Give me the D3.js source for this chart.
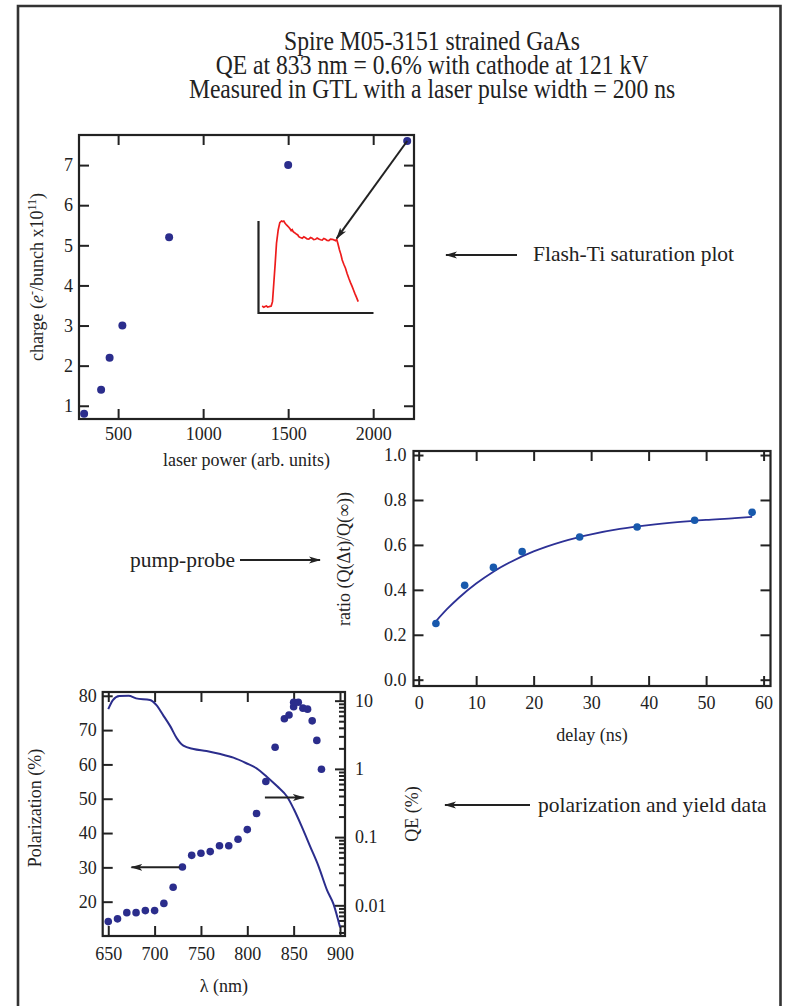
<!DOCTYPE html>
<html>
<head>
<meta charset="utf-8">
<script src="https://cdn.jsdelivr.net/npm/d3@7/dist/d3.min.js"></script>
<style>
  body { margin: 0; background: #fff; }
  svg { display: block; }
  text { font-family: "Liberation Serif", "Times New Roman", serif; fill: #222; }
</style>
</head>
<body>
<svg id="chart" width="785" height="1006"></svg>
<script>
// ---- data ----
var titleLines = [
  "Spire M05-3151 strained GaAs",
  "QE at 833 nm = 0.6% with cathode at 121 kV",
  "Measured in GTL with a laser pulse width = 200 ns"
];

// Flash-Ti saturation
var satPower = [300, 400, 450, 525, 800, 1500, 2200];
var satCharge = [0.8, 1.4, 2.2, 3.0, 5.2, 7.0, 7.6];
var satXTicks = [500, 1000, 1500, 2000];
var satYTicks = [1, 2, 3, 4, 5, 6, 7];

// inset: bunch shape (arb. time / arb. amplitude)
var pulseTime = [3.7, 5.3, 6.5, 8.0, 9.2, 10.3, 11.5, 12.7, 14.0, 15.3,
  16.7, 18.0, 19.7, 21.3, 23.0, 24.2, 25.3, 26.6, 28.0, 29.2,
  30.3, 31.5, 32.7, 33.7, 34.7, 35.8, 37.0, 38.2, 39.3, 40.3,
  41.3, 42.5, 43.7, 45.3, 47.0, 48.6, 50.3, 52.0, 53.7, 55.3,
  57.0, 58.6, 60.3, 62.0, 63.7, 65.3, 67.0, 68.6, 70.3, 72.0,
  73.7, 75.3, 77.0, 78.2, 79.3, 81.0, 82.3, 83.7, 85.3, 87.0,
  88.6, 90.3, 92.0, 93.7, 95.0, 96.3, 98.0, 99.7];
var pulseAmp = [0.076, 0.062, 0.070, 0.076, 0.064, 0.068, 0.072, 0.076, 0.123, 0.323,
  0.540, 0.758, 0.902, 0.982, 1.000, 0.995, 1.000, 0.975, 0.957, 0.945,
  0.932, 0.915, 0.895, 0.905, 0.884, 0.875, 0.866, 0.855, 0.848, 0.830,
  0.823, 0.818, 0.812, 0.828, 0.818, 0.806, 0.804, 0.820, 0.812, 0.798,
  0.801, 0.815, 0.804, 0.796, 0.793, 0.810, 0.801, 0.788, 0.786, 0.803,
  0.801, 0.795, 0.786, 0.800, 0.758, 0.685, 0.640, 0.576, 0.530, 0.486,
  0.430, 0.377, 0.330, 0.286, 0.250, 0.214, 0.170, 0.123];
var pulseKnee = 53; // index of the point the arrow lands on
var pulseTimeMax = 115;

// pump-probe
var delayNs = [3, 8, 13, 18, 28, 38, 48, 58];
var ratio = [0.25, 0.42, 0.50, 0.57, 0.635, 0.68, 0.71, 0.745];
var fitDelay = [3, 5, 7, 10, 13, 16, 20, 25, 30, 35, 40, 45, 50, 55, 58];
var fitRatio = [0.26, 0.316, 0.365, 0.428, 0.481, 0.524, 0.571, 0.615, 0.647, 0.671, 0.688, 0.701, 0.711, 0.719, 0.725];
var ppXTicks = [0, 10, 20, 30, 40, 50, 60];
var ppYTicks = [0, 0.2, 0.4, 0.6, 0.8, 1.0];

// polarization and QE vs wavelength
var polLambda = [650, 660, 670, 680, 690, 700, 710, 720, 730, 740, 750, 760, 770, 780, 790, 800, 810, 820,
  830, 840, 845, 850, 850, 855, 860, 865, 870, 875, 880];
var polValue = [14.2, 15.0, 16.8, 16.8, 17.4, 17.4, 19.5, 24.2, 30.1, 33.5, 34.1, 34.6, 36.3, 36.3, 38.2, 41.0, 45.7, 55.0,
  65.0, 73.3, 74.4, 76.8, 78.1, 78.1, 76.4, 76.1, 72.7, 67.0, 58.6];
var qeLambda = [650, 655, 662, 672, 680, 695, 702, 709, 717, 724, 731, 742, 756, 771, 785, 799, 810, 821, 832,
  843, 850, 859, 868, 877, 886, 893, 900];
var qeValue = [7.5, 10.2, 11.7, 11.8, 10.8, 10.2, 8.6, 6.2, 4.2, 2.8, 2.19, 1.96, 1.83, 1.65, 1.46, 1.21, 1.02, 0.77,
  0.56, 0.39, 0.26, 0.14, 0.072, 0.037, 0.0167, 0.0104, 0.0048];
var polXTicks = [650, 700, 750, 800, 850, 900];
var polYTicks = [20, 30, 40, 50, 60, 70, 80];
var qeTicks = [0.01, 0.1, 1, 10];

// ---- drawing ----
var svg = d3.select("#chart");
var ink = "#222";
var navy = "#2b2d8c";
var serif = "'Liberation Serif', 'Times New Roman', serif";

var defs = svg.append("defs");
defs.append("marker")
  .attr("id", "head")
  .attr("markerUnits", "userSpaceOnUse")
  .attr("viewBox", "0 -5 12 10")
  .attr("refX", 11).attr("refY", 0)
  .attr("markerWidth", 12).attr("markerHeight", 10)
  .attr("orient", "auto")
  .append("path")
  .attr("d", "M0,-3.6L12,0L0,3.6L3,0Z")
  .attr("fill", ink);

// page border (bottom edge is off the page)
svg.append("path")
  .attr("d", "M18,1010V6H780.5V1010")
  .attr("fill", "none")
  .attr("stroke", "#333")
  .attr("stroke-width", 2.6);

// title is set in a narrow face: tall glyphs squeezed sideways
svg.append("g").selectAll("text")
  .data(titleLines)
  .join("text")
  .attr("transform", function (d, i) { return "translate(432," + (50 + i * 24) + ") scale(0.86,1)"; })
  .attr("text-anchor", "middle")
  .style("font-size", "27.5px")
  .text(function (d) { return d; });

function arrow(x1, y1, x2, y2) {
  svg.append("line")
    .attr("x1", x1).attr("y1", y1).attr("x2", x2).attr("y2", y2)
    .attr("stroke", ink).attr("stroke-width", 2)
    .attr("marker-end", "url(#head)");
}

function styleAxis(g) {
  g.attr("font-family", serif).attr("font-size", 18);
  g.selectAll(".domain").remove();
  g.selectAll(".tick line").attr("stroke", ink).attr("stroke-width", 2);
  g.selectAll(".tick text").attr("fill", ink).style("font-size", "18px").style("font-family", serif);
}

// frame with inward ticks on all four sides
function frame(box, x, y, xt, yt, opt) {
  var g = svg.append("g");
  var w = box.r - box.l, h = box.b - box.t;
  var tk = 10;
  g.append("g").attr("transform", "translate(0," + box.b + ")")
    .call(d3.axisBottom(x).tickValues(xt).tickSize(-tk).tickPadding(opt.xpad).tickFormat(opt.xfmt || d3.format("d")))
    .call(styleAxis);
  g.append("g").attr("transform", "translate(0," + box.t + ")")
    .call(d3.axisTop(x).tickValues(xt).tickSize(-tk).tickFormat(""))
    .call(styleAxis);
  g.append("g").attr("transform", "translate(" + box.l + ",0)")
    .call(d3.axisLeft(y).tickValues(yt).tickSize(-tk).tickPadding(opt.ypad).tickFormat(opt.yfmt || d3.format("d")))
    .call(styleAxis);
  if (!opt.noRight) {
    g.append("g").attr("transform", "translate(" + box.r + ",0)")
      .call(d3.axisRight(y).tickValues(yt).tickSize(-tk).tickFormat(""))
      .call(styleAxis);
  }
  g.append("rect")
    .attr("x", box.l).attr("y", box.t).attr("width", w).attr("height", h)
    .attr("fill", "none").attr("stroke", ink).attr("stroke-width", 2.2);
  return g;
}

function dots(data, x, y, color, r) {
  svg.append("g").selectAll("circle")
    .data(data)
    .join("circle")
    .attr("cx", function (d) { return x(d[0]); })
    .attr("cy", function (d) { return y(d[1]); })
    .attr("r", r)
    .attr("fill", color);
}

function label(txt, x, y, rotate) {
  var t = svg.append("text")
    .attr("text-anchor", "middle")
    .style("font-size", "18px");
  if (rotate) t.attr("transform", "translate(" + x + "," + y + ") rotate(-90)");
  else t.attr("x", x).attr("y", y);
  if (typeof txt === "string") t.text(txt);
  return t;
}

// ---- panel 1: saturation ----
var b1 = { l: 79, r: 414, t: 135, b: 419 };
var x1 = d3.scaleLinear().domain([270, 2240]).range([b1.l, b1.r]);
var y1 = d3.scaleLinear().domain([0.67, 7.75]).range([b1.b, b1.t]);
frame(b1, x1, y1, satXTicks, satYTicks, { xpad: 8, ypad: 6 });
dots(satPower.map(function (p, i) { return [p, satCharge[i]]; }), x1, y1, navy, 4);
label("laser power (arb. units)", (b1.l + b1.r) / 2, 466);
var yl1 = label(null, 43, (b1.t + b1.b) / 2, true);
yl1.append("tspan").text("charge (");
yl1.append("tspan").style("font-style", "italic").text("e");
yl1.append("tspan").attr("dy", -7).style("font-size", "12px").text("-");
yl1.append("tspan").attr("dy", 7).text("/bunch x10");
yl1.append("tspan").attr("dy", -7).style("font-size", "12px").text("11");
yl1.append("tspan").attr("dy", 7).text(")");

// inset bunch shape
var ix = d3.scaleLinear().domain([0, pulseTimeMax]).range([258.5, 373.5]);
var iy = d3.scaleLinear().domain([0, 1]).range([313, 221]);
svg.append("path")
  .attr("d", "M" + ix(0) + "," + iy(1) + "V" + iy(0) + "H" + ix(pulseTimeMax))
  .attr("fill", "none").attr("stroke", ink).attr("stroke-width", 2.2);
var pulse = pulseTime.map(function (t, i) { return [t, pulseAmp[i]]; });
svg.append("path")
  .datum(pulse)
  .attr("d", d3.line().x(function (d) { return ix(d[0]); }).y(function (d) { return iy(d[1]); }))
  .attr("fill", "none").attr("stroke", "#ee1c1c").attr("stroke-width", 1.7);
arrow(x1(satPower[6]), y1(satCharge[6]), ix(pulse[pulseKnee][0]), iy(pulse[pulseKnee][1]) - 1);

// side notes
arrow(517, 255, 446, 255);
svg.append("text").attr("x", 533).attr("y", 261).style("font-size", "21.5px").text("Flash-Ti saturation plot");

// ---- panel 2: pump-probe ----
var b2 = { l: 413.5, r: 770.5, t: 451, b: 686 };
var x2 = d3.scaleLinear().domain([-0.9, 61.2]).range([b2.l, b2.r]);
var y2 = d3.scaleLinear().domain([-0.028, 1.018]).range([b2.b, b2.t]);
frame(b2, x2, y2, ppXTicks, ppYTicks, { xpad: 10, ypad: 7, yfmt: d3.format(".1f") });
svg.append("path")
  .datum(fitDelay.map(function (t, i) { return [t, fitRatio[i]]; }))
  .attr("d", d3.line().curve(d3.curveMonotoneX)
    .x(function (d) { return x2(d[0]); }).y(function (d) { return y2(d[1]); }))
  .attr("fill", "none").attr("stroke", "#2d3196").attr("stroke-width", 1.8);
dots(delayNs.map(function (t, i) { return [t, ratio[i]]; }), x2, y2, "#1859ad", 3.8);
label("delay (ns)", (b2.l + b2.r) / 2, 741);
label("ratio (Q(\u0394t)/Q(\u221e))", 350, 559, true);

arrow(240, 560, 320, 560);
svg.append("text").attr("x", 130).attr("y", 567).style("font-size", "21.5px").text("pump-probe");

// ---- panel 3: polarization + QE ----
var b3 = { l: 102.7, r: 345, t: 692, b: 936 };
var x3 = d3.scaleLinear().domain([644, 905.4]).range([b3.l, b3.r]);
var y3 = d3.scaleLinear().domain([10, 81.1]).range([b3.b, b3.t]);
var q3 = d3.scaleLog().domain([0.00355, 13.4]).range([b3.b, b3.t]);
var g3 = frame(b3, x3, y3, polXTicks, polYTicks, { xpad: 11, ypad: 6, noRight: true });
// log axis on the right, major + minor ticks pointing in
var qeMinor = q3.ticks().filter(function (v) { return qeTicks.indexOf(v) < 0; });
g3.append("g").attr("transform", "translate(" + b3.r + ",0)")
  .call(d3.axisRight(q3).tickValues(qeMinor).tickSize(-6).tickFormat(""))
  .call(styleAxis);
g3.append("g").attr("transform", "translate(" + b3.r + ",0)")
  .call(d3.axisRight(q3).tickValues(qeTicks).tickSize(-10).tickPadding(10)
    .tickFormat(function (d) { return String(d); }))
  .call(styleAxis);

svg.append("path")
  .datum(qeLambda.map(function (l, i) { return [l, qeValue[i]]; }))
  .attr("d", d3.line().curve(d3.curveMonotoneX)
    .x(function (d) { return x3(d[0]); }).y(function (d) { return q3(d[1]); }))
  .attr("fill", "none").attr("stroke", navy).attr("stroke-width", 2);
dots(polLambda.map(function (l, i) { return [l, polValue[i]]; }), x3, y3, navy, 3.8);

arrow(x3(727), y3(30), x3(675), y3(30));
arrow(x3(819), q3(0.38), x3(861), q3(0.38));

label("\u03bb (nm)", (b3.l + b3.r) / 2, 992);
label("Polarization (%)", 41, 808, true);
label("QE (%)", 418, 814, true);

arrow(530, 805, 445, 805);
svg.append("text").attr("x", 538).attr("y", 812).style("font-size", "21.5px").text("polarization and yield data");
</script>
</body>
</html>
